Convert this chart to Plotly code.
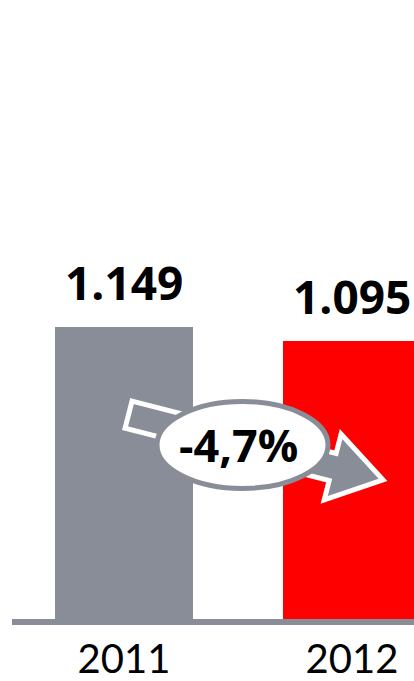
import plotly.graph_objects as go
import math

# ---- data ----
years = ["2011", "2012"]
values = [1149, 1095]
bar_colors = ["#898d97", "#ff0000"]

GRAY = "#898d97"
W, H = 414, 681
ML, MR, MT, MB = 12, 0, 0, 62
PW, PH = W - ML - MR, H - MT - MB
XR = [-0.4912, 1.2719]
YMAX = 2436

def to_px(x, y):
    return (ML + (x - XR[0]) / (XR[1] - XR[0]) * PW, MT + PH - y / YMAX * PH)

def to_data(px, py):
    return (XR[0] + (px - ML) / PW * (XR[1] - XR[0]), (MT + PH - py) / PH * YMAX)

fig = go.Figure()
fig.add_trace(go.Bar(
    x=[0, 1], y=values, width=0.6053,
    marker=dict(color=bar_colors, line=dict(width=0)),
    hoverinfo="skip",
))

# value labels
for i, v in enumerate(values):
    fig.add_annotation(
        x=i, y=v, xref="x", yref="y",
        text=f"{v/1000:.3f}", showarrow=False,
        yanchor="middle", yshift=45,
        font=dict(family="Open Sans", size=46, color="black", weight=700),
    )

# arrow from bar 1 to bar 2
tail = to_px(0 + 0.02, 0.70 * values[0])
tip = to_px(1 + 0.136, 0.50 * values[1])
dx, dy = tip[0] - tail[0], tip[1] - tail[1]
ln = math.hypot(dx, dy)
ux, uy = dx / ln, dy / ln
nx, ny = -uy, ux
head_len, hw, hh = 52, 14, 34
B = (tip[0] - head_len * ux, tip[1] - head_len * uy)
pts_px = [
    (tail[0] - hw * nx, tail[1] - hw * ny),
    (B[0] - hw * nx, B[1] - hw * ny),
    (B[0] - hh * nx, B[1] - hh * ny),
    tip,
    (B[0] + hh * nx, B[1] + hh * ny),
    (B[0] + hw * nx, B[1] + hw * ny),
    (tail[0] + hw * nx, tail[1] + hw * ny),
]
pts = [to_data(*p) for p in pts_px]
path = "M " + " L ".join(f"{x},{y}" for x, y in pts) + " Z"
fig.add_shape(type="path", path=path, xref="x", yref="y",
              fillcolor=GRAY, line=dict(color="white", width=5), layer="above")

# ellipse with change label
change = (values[1] - values[0]) / values[0] * 100
label = f"{change:.1f}%".replace(".", ",")
ecx, ecy = 0.5197, 685
fig.add_shape(type="circle", xref="x", yref="y",
              xsizemode="pixel", ysizemode="pixel",
              xanchor=ecx, yanchor=ecy,
              x0=-85.5, x1=85.5, y0=-43.5, y1=43.5,
              fillcolor="white", line=dict(color=GRAY, width=5), layer="above")
fig.add_annotation(x=ecx, y=ecy, xref="x", yref="y", text=label, showarrow=False,
                   xshift=-4, yanchor="middle",
                   font=dict(family="Open Sans", size=45, color="black", weight=700))

fig.update_layout(
    width=W, height=H,
    margin=dict(l=ML, r=MR, t=MT, b=MB, autoexpand=False),
    paper_bgcolor="white", plot_bgcolor="white",
    showlegend=False,
    bargap=0,
)
fig.update_xaxes(
    range=XR, tickvals=[0, 1], ticktext=years,
    showline=True, linecolor=GRAY, linewidth=6,
    ticks="", automargin=False,
    showgrid=False, zeroline=False,
    tickfont=dict(family="Lato", size=40, color="black"),
    fixedrange=True,
)
fig.update_yaxes(range=[0, YMAX], visible=False, showgrid=False, fixedrange=True,
                 automargin=False)

fig.write_html(
    "out.html",
    config=dict(displayModeBar=False),
    post_script="document.body.style.margin='0';document.body.style.overflow='hidden';",
)
